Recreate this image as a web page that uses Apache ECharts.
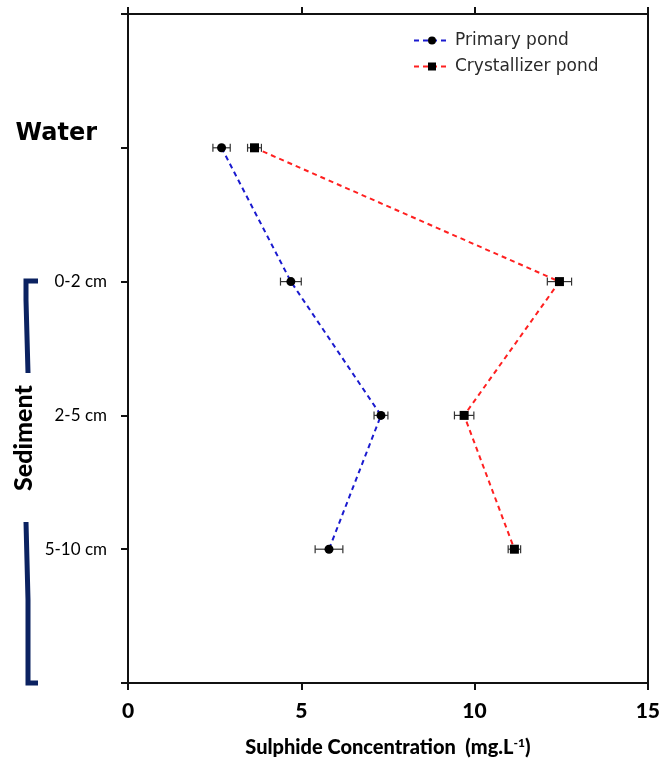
<!DOCTYPE html>
<html><head><meta charset="utf-8">
<script src="https://cdn.jsdelivr.net/npm/echarts@6/dist/echarts.min.js"></script>
<style>html,body{margin:0;padding:0;background:#fff}#c{width:663px;height:765px}</style>
</head><body><div id="c"></div>
<script>
// y positions of the depth categories (value-axis slots)
const depthSlots = [1, 2, 3, 4];
const depthLabels = {1: 'Water', 2: '0-2 cm', 3: '2-5 cm', 4: '5-10 cm'};
const xTicks = [0, 5, 10, 15];
const primaryMean = [2.7, 4.7, 7.3, 5.8];
const primaryErr = [0.25, 0.3, 0.2, 0.4];
const crystMean = [3.65, 12.45, 9.7, 11.15];
const crystErr = [0.2, 0.35, 0.28, 0.18];
const seriesNames = ['Primary pond', 'Crystallizer pond'];

const chart = echarts.init(document.getElementById('c'));
const pts = (m) => m.map((v, i) => [v, depthSlots[i]]);
const errData = (m, e) => m.map((v, i) => [v - e[i], v + e[i], depthSlots[i]]);

function errRender(params, api) {
  const lo = api.coord([api.value(0), api.value(2)]);
  const hi = api.coord([api.value(1), api.value(2)]);
  const h = 4;
  const st = {stroke: '#333', lineWidth: 1.2};
  return {type: 'group', children: [
    {type: 'line', shape: {x1: lo[0], y1: lo[1], x2: hi[0], y2: hi[1]}, style: st},
    {type: 'line', shape: {x1: lo[0], y1: lo[1] - h, x2: lo[0], y2: lo[1] + h}, style: st},
    {type: 'line', shape: {x1: hi[0], y1: hi[1] - h, x2: hi[0], y2: hi[1] + h}, style: st}
  ]};
}

const axisLine = {show: true, onZero: false, lineStyle: {color: '#111', width: 2}};
const navy = '#0b2261';
chart.setOption({
  animation: false,
  backgroundColor: '#fff',
  grid: {left: 128, right: 15, top: 14, bottom: 82},
  legend: {
    left: 408, top: 27, orient: 'vertical', itemGap: 9, itemWidth: 36, itemHeight: 10,
    textStyle: {fontFamily: 'DejaVu Sans', fontSize: 17, color: '#2a2a2a'},
    data: seriesNames
  },
  xAxis: [{
    type: 'value', min: 0, max: 15, interval: 5, position: 'bottom',
    axisLine, splitLine: {show: false},
    axisTick: {show: true, length: 7, lineStyle: {color: '#111', width: 2}},
    axisLabel: {fontFamily: 'Lato', fontWeight: 900, fontSize: 21, color: '#000', margin: 18,
      formatter: v => xTicks.includes(v) ? String(v) : ''},
    name: '{a|Sulphide Concentration  (mg.L}{s|-1}{a|)}', nameLocation: 'middle', nameGap: 54,
    nameTextStyle: {rich: {
      a: {fontFamily: 'Lato', fontWeight: 900, fontSize: 20, color: '#000'},
      s: {fontFamily: 'Lato', fontWeight: 900, fontSize: 12, color: '#000', verticalAlign: 'top', padding: [0, 0, 10, 0]}
    }}
  }, {
    type: 'value', min: 0, max: 15, interval: 5, position: 'top',
    axisLine, splitLine: {show: false},
    axisTick: {show: true, length: 7, lineStyle: {color: '#111', width: 2}},
    axisLabel: {show: false}
  }],
  yAxis: [{
    type: 'value', min: 0, max: 5, interval: 1, inverse: true, position: 'left',
    axisLine, splitLine: {show: false},
    axisTick: {show: true, length: 7, lineStyle: {color: '#111', width: 2}},
    axisLabel: {
      margin: 21, color: '#000',
      formatter: v => v === 1 ? '{w|' + depthLabels[v] + '}' : (depthLabels[v] ? '{d|' + depthLabels[v] + '}' : ''),
      rich: {
        w: {fontFamily: 'DejaVu Sans', fontWeight: 'bold', fontSize: 24, color: '#000', padding: [0, 10, 28, 0]},
        d: {fontFamily: 'Lato', fontSize: 17, color: '#000'}
      }
    }
  }, {
    type: 'value', min: 0, max: 5, interval: 1, inverse: true, position: 'right',
    axisLine, splitLine: {show: false}, axisTick: {show: false}, axisLabel: {show: false}
  }],
  series: [
    {name: seriesNames[0], type: 'line', data: pts(primaryMean), symbol: 'circle', symbolSize: 9,
     lineStyle: {color: '#1a1acf', width: 2, type: [5, 4]}, itemStyle: {color: '#000'}, z: 5},
    {name: seriesNames[1], type: 'line', data: pts(crystMean), symbol: 'rect', symbolSize: 9,
     lineStyle: {color: '#ff2020', width: 2, type: [5, 4]}, itemStyle: {color: '#000'}, z: 5},
    {type: 'custom', data: errData(primaryMean, primaryErr), renderItem: errRender, z: 4, silent: true},
    {type: 'custom', data: errData(crystMean, crystErr), renderItem: errRender, z: 4, silent: true}
  ],
  graphic: [
    {type: 'polyline', shape: {points: [[38, 281], [26, 281], [26, 300], [28, 373]]},
     style: {stroke: navy, lineWidth: 5, fill: null}},
    {type: 'polyline', shape: {points: [[26, 522], [28, 600], [28, 683], [38, 683]]},
     style: {stroke: navy, lineWidth: 5, fill: null}},
    {type: 'text', x: 24, y: 438, rotation: Math.PI / 2,
     style: {text: 'Sediment', fontFamily: 'Lato', fontWeight: 900, fontSize: 25, fill: '#000',
       align: 'center', verticalAlign: 'middle'}}
  ]
});
</script></body></html>
